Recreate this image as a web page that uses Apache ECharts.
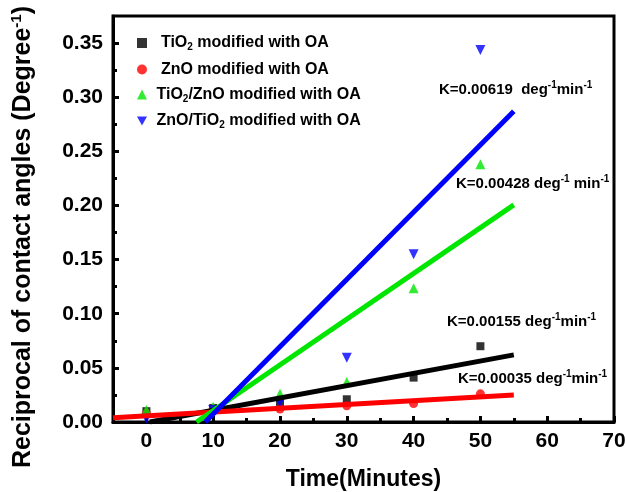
<!DOCTYPE html>
<html>
<head>
<meta charset="utf-8">
<script src="https://cdn.jsdelivr.net/npm/echarts@6/dist/echarts.min.js"></script>
<style>
  html, body { margin: 0; padding: 0; background: #fff; }
  #chart { width: 625px; height: 492px; }
</style>
</head>
<body>
<div id="chart"></div>
<script>
// measured points (x = minutes)
const times = [0, 10, 20, 30, 40, 50];
const tio2 = [0.010, 0.013, 0.018, 0.021, 0.041, 0.070];
const zno = [0.008, 0.012, 0.012, 0.015, 0.017, 0.026];
const tio2Zno = [0.011, 0.014, 0.026, 0.037, 0.1235, 0.238];
const znoTio2 = [0.003, 0.011, 0.018, 0.0594, 0.155, 0.3435];

// linear fit end points
const fitTio2X = [0.5, 55], fitTio2Y = [0, 0.062];
const fitZnoX = [-5, 55], fitZnoY = [0.004, 0.025];
const fitTio2ZnoX = [7.5, 55], fitTio2ZnoY = [0, 0.2005];
const fitZnoTio2X = [8.8, 55], fitZnoTio2Y = [0, 0.287];

const xMajor = [0, 10, 20, 30, 40, 50, 60, 70];
const xMinor = [-5, 5, 15, 25, 35, 45, 55, 65];
const yMajor = [0, 0.05, 0.10, 0.15, 0.20, 0.25, 0.30, 0.35];
const yMinor = [0.025, 0.075, 0.125, 0.175, 0.225, 0.275, 0.325];

const names = ['TiO2 modified with OA', 'ZnO modified with OA', 'TiO2/ZnO modified with OA', 'ZnO/TiO2 modified with OA'];
const legendText = {
  'TiO2 modified with OA': '  TiO{sub|2} modified with OA',
  'ZnO modified with OA': '  ZnO modified with OA',
  'TiO2/ZnO modified with OA': ' TiO{sub|2}/ZnO modified with OA',
  'ZnO/TiO2 modified with OA': ' ZnO/TiO{sub|2} modified with OA'
};
const colors = ['#000000', '#ff0000', '#00e600', '#0000ff'];
const symbols = ['rect', 'circle', 'triangle', 'path://M0,0 L10,0 L5,9 Z'];
const sizes = [8, 9, 10, 10];

const FONT = 'Liberation Sans, Arial, sans-serif';

function pairs(xs, ys) { return xs.map((x, i) => [x, ys[i]]); }

const pointSets = [tio2, zno, tio2Zno, znoTio2];
const fits = [[fitTio2X, fitTio2Y], [fitZnoX, fitZnoY], [fitTio2ZnoX, fitTio2ZnoY], [fitZnoTio2X, fitZnoTio2Y]];

let series = [];
pointSets.forEach((vals, i) => {
  series.push({
    name: names[i],
    type: 'scatter',
    data: pairs(times, vals),
    symbol: symbols[i],
    symbolSize: sizes[i],
    itemStyle: { color: colors[i] },
    z: 2
  });
});
fits.forEach((f, i) => {
  series.push({
    name: 'fit' + i,
    type: 'line',
    data: pairs(f[0], f[1]),
    showSymbol: false,
    lineStyle: { color: colors[i], width: 5 },
    itemStyle: { color: colors[i] },
    z: 3
  });
});

function note(text, left, top) {
  return {
    type: 'text', left: left, top: top,
    style: {
      text: text,
      fontSize: 15, fontWeight: 'bold', fontFamily: FONT, fill: '#000',
      rich: {
        sup: { fontSize: 10, fontWeight: 'bold', fontFamily: FONT, fill: '#000', padding: [0, 0, 10, 0] }
      }
    }
  };
}

let myChart = echarts.init(document.getElementById('chart'));
let option = {
  animation: false,
  backgroundColor: '#fff',
  grid: {
    left: 113, top: 16, right: 11, bottom: 70,
    outerBoundsMode: 'none', containLabel: false,
    show: true, borderColor: '#000', borderWidth: 3, backgroundColor: 'transparent'
  },
  legend: {
    data: names,
    orient: 'vertical',
    left: 132, top: 30,
    itemWidth: 10, itemHeight: 10, itemGap: 9,
    formatter: name => legendText[name],
    textStyle: {
      fontSize: 16, fontWeight: 'bold', fontFamily: FONT, color: '#000',
      rich: {
        sub: { fontSize: 10, fontWeight: 'bold', fontFamily: FONT, verticalAlign: 'bottom', padding: [9, 0, 0, 0] }
      }
    }
  },
  xAxis: [
    {
      type: 'value', min: -5, max: 70,
      name: 'Time(Minutes)', nameLocation: 'middle', nameGap: 46,
      nameTextStyle: { fontSize: 23, fontWeight: 'bold', fontFamily: FONT, color: '#000' },
      axisLine: { onZero: false, lineStyle: { color: '#000', width: 3 } },
      axisTick: { inside: true, length: 6, lineStyle: { width: 3, color: '#000' }, customValues: xMajor },
      axisLabel: { customValues: xMajor, fontSize: 21, fontWeight: 'bold', fontFamily: FONT, color: '#000', margin: 9 },
      splitLine: { show: false }
    },
    {
      type: 'value', min: -5, max: 70, position: 'bottom',
      axisLine: { show: false, onZero: false },
      axisTick: { inside: true, length: 4, lineStyle: { width: 3, color: '#000' }, customValues: xMinor },
      axisLabel: { show: false },
      splitLine: { show: false }
    }
  ],
  yAxis: [
    {
      type: 'value', min: 0, max: 0.375,
      name: 'Reciprocal of contact angles (Degree{sup|-1})', nameLocation: 'middle', nameGap: 75,
      nameTextStyle: {
        fontSize: 25, fontWeight: 'bold', fontFamily: FONT, color: '#000', padding: [0, 36, 0, 0],
        rich: { sup: { fontSize: 15, fontWeight: 'bold', fontFamily: FONT, color: '#000', padding: [0, 0, 14, 0] } }
      },
      axisLine: { onZero: false, lineStyle: { color: '#000', width: 3 } },
      axisTick: { inside: true, length: 6, lineStyle: { width: 3, color: '#000' }, customValues: yMajor },
      axisLabel: { customValues: yMajor, formatter: v => v.toFixed(2), fontSize: 21, fontWeight: 'bold', fontFamily: FONT, color: '#000', margin: 10 },
      splitLine: { show: false }
    },
    {
      type: 'value', min: 0, max: 0.375, position: 'left',
      axisLine: { show: false, onZero: false },
      axisTick: { inside: true, length: 4, lineStyle: { width: 3, color: '#000' }, customValues: yMinor },
      axisLabel: { show: false },
      splitLine: { show: false }
    }
  ],
  graphic: [
    note('K=0.00619  deg{sup|-1}min{sup|-1}', 439, 80),
    note('K=0.00428 deg{sup|-1} min{sup|-1}', 456, 174),
    note('K=0.00155 deg{sup|-1}min{sup|-1}', 447, 312),
    note('K=0.00035 deg{sup|-1}min{sup|-1}', 458, 369)
  ],
  series: series
};
myChart.setOption(option);
</script>
</body>
</html>
